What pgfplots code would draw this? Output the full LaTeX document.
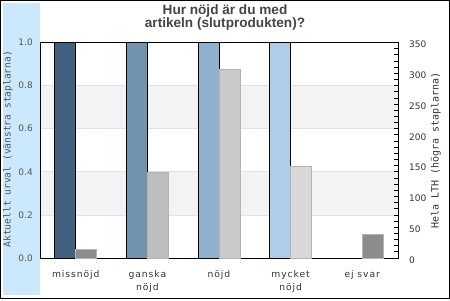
\documentclass[border=0pt]{standalone}
\usepackage{pgfplots}
\pgfplotsset{compat=1.18}
\usepackage{fontspec}
\setmainfont{DejaVu Sans}
\newfontfamily\dvs{DejaVu Sans}
\newfontfamily\dvsl[LetterSpace=10]{DejaVu Sans}
\newfontfamily\dvm{DejaVu Sans Mono}
\newfontfamily\lib{Liberation Sans}
\definecolor{stripblue}{RGB}{204,232,252}
\definecolor{c1}{HTML}{41617E}
\definecolor{c2}{HTML}{7293AE}
\definecolor{c3}{HTML}{8FB1CD}
\definecolor{c4}{HTML}{AECDE9}
\definecolor{g1}{HTML}{8C8C8C}
\definecolor{g2}{HTML}{BEBEBE}
\definecolor{g3}{HTML}{CACACA}
\definecolor{g4}{HTML}{D8D8D8}
\definecolor{gedge}{HTML}{B4B4B4}
\definecolor{band}{HTML}{F3F3F3}
\definecolor{gridc}{HTML}{E2E2E2}
\definecolor{titlec}{HTML}{444444}
\definecolor{labc}{HTML}{333333}
\definecolor{leftlab}{HTML}{555555}
\pgfplotsset{
  leftbar/.style={ybar, bar width=21bp, bar shift=-10.5bp, draw=black, line width=0.8bp},
  rightbar/.style={ybar, bar width=21bp, bar shift=10.5bp, draw=gedge, line width=0.8bp},
}
\begin{document}
\begin{tikzpicture}[x=1bp,y=1bp]
\useasboundingbox (0,0) rectangle (450,300);
\fill[stripblue] (3,5) rectangle (40,297);
\draw[line width=1bp] (0.5,1.5) rectangle (449.5,299.5);
\begin{axis}[
  at={(40bp,42bp)}, anchor=south west, scale only axis,
  width=358bp, height=215.5bp,
  xmin=-0.5, xmax=4.5, ymin=0, ymax=1,
  axis on top,
  axis line style={line width=0.8bp},
  xtick={0,1,2,3,4},
  xticklabels={missnöjd,{ganska\\nöjd},nöjd,{mycket\\nöjd},ej svar},
  ytick={0,0.2,0.4,0.6,0.8,1},
  major tick length=0pt,
  ytick pos=left, xtick pos=bottom,
  yticklabel style={/pgf/number format/fixed, /pgf/number format/fixed zerofill,
    /pgf/number format/precision=1, /pgf/number format/assume math mode=true,
    anchor=east, inner sep=0pt, xshift=-7bp,
    font=\dvs\fontsize{9bp}{10bp}\selectfont, text=leftlab},
  xticklabel style={font=\dvsl\fontsize{9.2bp}{13bp}\selectfont, text=labc,
    align=center, anchor=north, inner sep=0pt, yshift=-12bp},
  ylabel={Aktuellt urval (vänstra staplarna)},
  ylabel style={at={(axis description cs:-0.0894,0.505)}, anchor=center,
    font=\dvm\fontsize{9.6bp}{11bp}\selectfont, text=leftlab},
  title={Hur nöjd är du med\\artikeln (slutprodukten)?},
  title style={at={(axis description cs:0.5168,1)}, anchor=south, inner sep=0pt,
    yshift=5.6bp, align=center,
    font=\lib\bfseries\fontsize{13.6bp}{13.5bp}\selectfont, text=titlec},
]
\fill[band] (axis cs:-0.5,0.2) rectangle (axis cs:4.5,0.4);
\fill[band] (axis cs:-0.5,0.6) rectangle (axis cs:4.5,0.8);
\draw[gridc, line width=0.8bp] (axis cs:-0.5,0.2) -- (axis cs:4.5,0.2);
\draw[gridc, line width=0.8bp] (axis cs:-0.5,0.4) -- (axis cs:4.5,0.4);
\draw[gridc, line width=0.8bp] (axis cs:-0.5,0.6) -- (axis cs:4.5,0.6);
\draw[gridc, line width=0.8bp] (axis cs:-0.5,0.8) -- (axis cs:4.5,0.8);
\addplot[leftbar, fill=c1] coordinates {(0,1.0)};
\addplot[leftbar, fill=c2] coordinates {(1,1.0)};
\addplot[leftbar, fill=c3] coordinates {(2,1.0)};
\addplot[leftbar, fill=c4] coordinates {(3,1.0)};
\end{axis}
\begin{axis}[
  at={(40bp,42bp)}, anchor=south west, scale only axis,
  width=358bp, height=215.5bp,
  xmin=-0.5, xmax=4.5, ymin=0, ymax=350,
  axis x line=none, axis y line*=right,
  axis line style={line width=0.8bp, -},
  ytick={0,50,...,350}, minor y tick num=4,
  tick align=inside, major tick length=4bp, minor tick length=4bp,
  tick style={line width=0.8bp, black},
  yticklabel style={anchor=west, inner sep=0pt, xshift=11bp, yshift=-2bp,
    /pgf/number format/assume math mode=true,
    font=\dvs\fontsize{9bp}{10bp}\selectfont, text=labc},
  ylabel={Hela LTH (högra staplarna)},
  ylabel style={at={(axis description cs:1.106,0.5)}, anchor=center,
    font=\dvm\fontsize{10bp}{11bp}\selectfont, text=labc},
]
\addplot[rightbar, fill=g1] coordinates {(0,14)};
\addplot[rightbar, fill=g2] coordinates {(1,139)};
\addplot[rightbar, fill=g3] coordinates {(2,307)};
\addplot[rightbar, fill=g4] coordinates {(3,148)};
\addplot[rightbar, fill=g1] coordinates {(4,39)};
\end{axis}
\end{tikzpicture}
\end{document}
